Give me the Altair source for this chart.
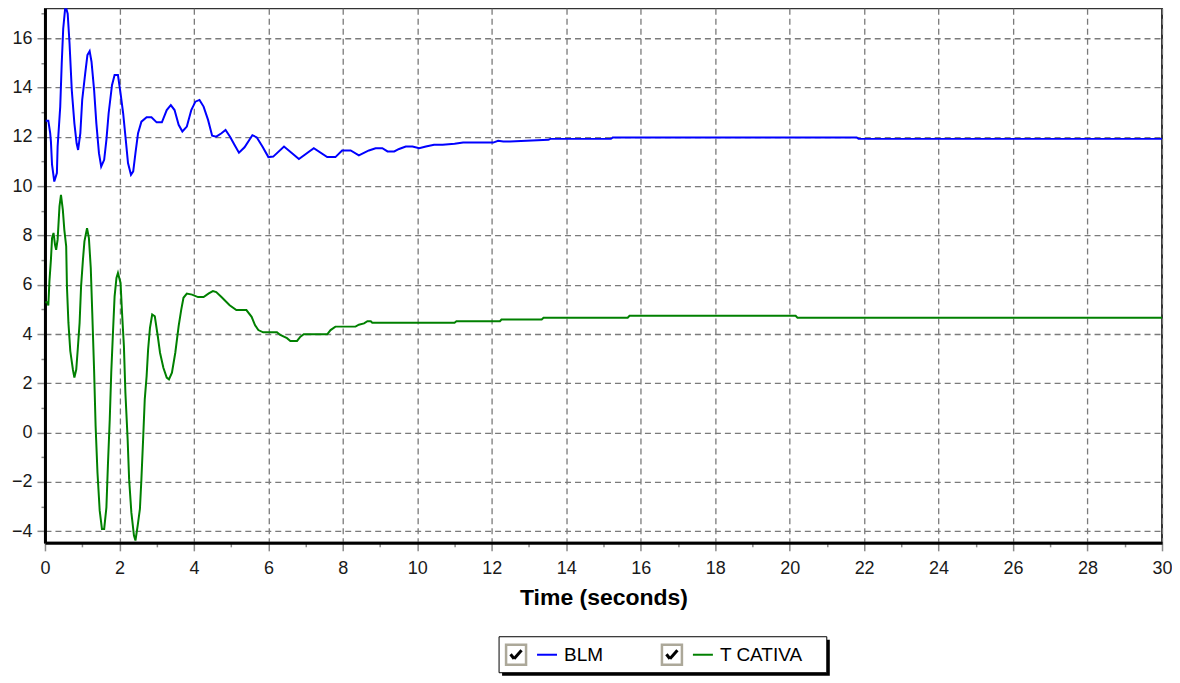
import altair as alt
import pandas as pd

series_names = ["BLM", "T CATIVA"]
series_colors = ["#0000ff", "#008000"]

blm_t = [0.02, 0.09, 0.14, 0.16, 0.19, 0.25, 0.32, 0.34, 0.41, 0.45, 0.49, 0.55, 0.61, 0.66, 0.72, 0.79,
         0.85, 0.89, 0.95, 1.0, 1.08, 1.14, 1.2, 1.25, 1.32, 1.38, 1.45, 1.51, 1.59, 1.65, 1.71, 1.8,
         1.87, 1.96, 2.03, 2.1, 2.17, 2.23, 2.31, 2.37, 2.43, 2.5, 2.59, 2.73, 2.86, 3.0, 3.14, 3.27,
         3.38, 3.48, 3.59, 3.69, 3.81, 3.93, 4.04, 4.15, 4.26, 4.38, 4.49, 4.6, 4.74, 4.85, 4.97, 5.1,
         5.21, 5.36, 5.57, 5.69, 5.84, 6.0, 6.13, 6.42, 6.82, 7.22, 7.58, 7.8, 7.98, 8.21, 8.43, 8.7,
         8.88, 9.06, 9.2, 9.38, 9.51, 9.69, 9.87, 10.05, 10.23, 10.45, 10.68, 11.0, 11.23, 12.04, 12.17,
         12.31, 12.49, 13.52, 13.57, 15.2, 15.25, 21.8, 21.85, 30.0]
blm_v = [12.66, 12.66, 12.15, 11.81, 10.87, 10.19, 10.53, 11.61, 13.23, 14.98, 16.39, 17.34, 17.0, 15.79,
         13.9, 12.55, 11.74, 11.47, 12.15, 13.5, 14.57, 15.32, 15.48, 15.05, 13.9, 12.55, 11.34, 10.8,
         11.07, 11.88, 12.96, 14.1, 14.51, 14.51, 13.77, 12.96, 11.88, 10.94, 10.46, 10.6, 11.34, 12.15,
         12.62, 12.8, 12.8, 12.59, 12.59, 13.09, 13.29, 13.09, 12.49, 12.22, 12.42, 13.09, 13.43, 13.5,
         13.23, 12.69, 12.05, 12.01, 12.15, 12.28, 12.01, 11.65, 11.36, 11.58, 12.07, 11.98, 11.61, 11.18,
         11.2, 11.61, 11.1, 11.54, 11.18, 11.18, 11.45, 11.45, 11.25, 11.45, 11.54, 11.54, 11.41, 11.41,
         11.51, 11.61, 11.61, 11.54, 11.61, 11.68, 11.68, 11.72, 11.77, 11.77, 11.84, 11.81, 11.81, 11.88,
         11.92, 11.92, 11.98, 11.98, 11.92, 11.92]

tc_t = [0.01, 0.07, 0.09, 0.12, 0.16, 0.19, 0.23, 0.27, 0.3, 0.34, 0.39, 0.43, 0.48, 0.52, 0.57, 0.59,
        0.63, 0.68, 0.75, 0.79, 0.84, 0.88, 0.93, 0.97, 1.02, 1.06, 1.13, 1.18, 1.23, 1.27, 1.32, 1.36,
        1.41, 1.47, 1.53, 1.59, 1.65, 1.69, 1.74, 1.78, 1.83, 1.87, 1.92, 1.96, 2.03, 2.07, 2.12, 2.16,
        2.22, 2.26, 2.32, 2.39, 2.43, 2.49, 2.55, 2.59, 2.64, 2.68, 2.73, 2.77, 2.82, 2.88, 2.95, 3.03,
        3.09, 3.18, 3.27, 3.33, 3.41, 3.5, 3.59, 3.66, 3.72, 3.81, 3.95, 4.11, 4.26, 4.4, 4.51, 4.6,
        4.74, 4.96, 5.14, 5.41, 5.55, 5.64, 5.73, 5.86, 6.23, 6.32, 6.5, 6.59, 6.77, 6.86, 6.95, 7.58,
        7.67, 7.8, 8.34, 8.43, 8.57, 8.66, 8.75, 8.79, 11.0, 11.05, 12.22, 12.26, 13.34, 13.39, 15.65,
        15.7, 20.16, 20.21, 30.0]
tc_v = [5.29, 5.29, 5.16, 6.14, 7.02, 7.89, 8.1, 7.62, 7.42, 7.83, 9.18, 9.65, 9.04, 8.23, 7.56, 5.94,
        4.45, 3.31, 2.56, 2.23, 2.56, 3.37, 4.45, 5.94, 7.02, 7.76, 8.3, 7.89, 6.68, 4.86, 2.5, 0.27,
        -1.62, -3.17, -3.91, -3.91, -3.04, -1.35, 0.54, 2.43, 4.18, 5.53, 6.28, 6.48, 6.07, 4.86, 3.51,
        1.62, -0.27, -1.89, -3.24, -4.18, -4.38, -3.78, -3.1, -1.89, -0.13, 1.35, 2.29, 3.37, 4.25, 4.79,
        4.72, 3.91, 3.24, 2.63, 2.23, 2.16, 2.43, 3.24, 4.32, 4.99, 5.47, 5.64, 5.6, 5.5, 5.5, 5.65, 5.74,
        5.7, 5.5, 5.17, 4.97, 4.97, 4.7, 4.36, 4.16, 4.07, 4.07, 3.96, 3.83, 3.72, 3.72, 3.89, 3.99, 3.99,
        4.16, 4.3, 4.3, 4.38, 4.43, 4.52, 4.52, 4.46, 4.46, 4.52, 4.52, 4.59, 4.59, 4.66, 4.66, 4.74, 4.74,
        4.66, 4.66]

x_ticks = [i * 0.5 for i in range(61)]        # 0 .. 30, labels every 2
y_ticks = [-4 + i * 0.5 for i in range(43)]   # -4 .. 17, labels every 2
x_domain = [0, 30]
y_domain = [-4.475, 17.22]

df = pd.concat([
    pd.DataFrame({"t": blm_t, "v": blm_v, "series": series_names[0]}),
    pd.DataFrame({"t": tc_t, "v": tc_v, "series": series_names[1]}),
], ignore_index=True)

W, H = 1118, 535
FONT = "Liberation Sans"
even = "datum.value % 2 === 0"

common_axis = dict(
    labelExpr=f"{even} ? datum.label : ''",
    format="d",
    labelFont=FONT,
    labelFontSize=18,
    labelColor="#1a1a1a",
    labelOverlap=False,
    labelFlush=False,
    domainColor="#000000",
    domainWidth=3,
    tickColor="#8a8a8a",
    tickWidth=1.5,
    tickSize={"condition": {"test": even, "value": 8}, "value": 4},
    gridColor="#7a7a7a",
    gridWidth=1.3,
    gridDash=[6, 4],
    gridOpacity={"condition": {"test": even, "value": 1}, "value": 0},
)

x_axis = alt.Axis(values=x_ticks, title="Time (seconds)", titleFont=FONT, titleFontSize=23,
                  titleFontWeight="bold", titleColor="#000000", titlePadding=9, labelPadding=9,
                  **common_axis)
y_axis = alt.Axis(values=y_ticks, title=None, labelPadding=5, **common_axis)

lines = alt.Chart(df).mark_line(strokeWidth=2, clip=True).encode(
    x=alt.X("t:Q", scale=alt.Scale(domain=x_domain, nice=False, zero=False), axis=x_axis),
    y=alt.Y("v:Q", scale=alt.Scale(domain=y_domain, nice=False, zero=False), axis=y_axis),
    color=alt.Color("series:N", scale=alt.Scale(domain=series_names, range=series_colors), legend=None),
    detail="series:N",
)

one = pd.DataFrame({"k": [0]})
base = alt.Chart(one)

# legend box (relative to plot origin)
bx0, bx1, by0, by1 = 454.5, 782.5, 629, 665
shadow = base.mark_rect(fill="#000000").encode(
    x=alt.value(bx0 + 3), x2=alt.value(bx1 + 3), y=alt.value(by0 + 3), y2=alt.value(by1 + 3))
box = base.mark_rect(fill="#ffffff", stroke="#000000", strokeWidth=1).encode(
    x=alt.value(bx0), x2=alt.value(bx1), y=alt.value(by0), y2=alt.value(by1))

legend_layers = [shadow, box]
item_x = [461.5, 617.5]
for i, name in enumerate(series_names):
    cx = item_x[i]
    cy = 637
    legend_layers.append(base.mark_rect(fill="#ffffff", stroke="#aca899", strokeWidth=2.5).encode(
        x=alt.value(cx), x2=alt.value(cx + 20), y=alt.value(cy), y2=alt.value(cy + 20)))
    legend_layers.append(base.mark_rule(stroke="#000000", strokeWidth=3).encode(
        x=alt.value(cx + 4.5), x2=alt.value(cx + 8), y=alt.value(cy + 9.5), y2=alt.value(cy + 14)))
    legend_layers.append(base.mark_rule(stroke="#000000", strokeWidth=3).encode(
        x=alt.value(cx + 8), x2=alt.value(cx + 15.5), y=alt.value(cy + 14), y2=alt.value(cy + 5.5)))
    legend_layers.append(base.mark_rule(stroke=series_colors[i], strokeWidth=2).encode(
        x=alt.value(cx + 31), x2=alt.value(cx + 51), y=alt.value(cy + 10), y2=alt.value(cy + 10)))
    legend_layers.append(base.mark_text(align="left", baseline="middle", font=FONT, fontSize=19,
                                        color="#000000").encode(
        x=alt.value(cx + 58), y=alt.value(cy + 10.5), text=alt.value(name)))

chart = alt.layer(lines, *legend_layers).properties(
    width=W, height=H,
    autosize=alt.AutoSizeParams(type="none"),
    padding={"left": 37, "top": 0, "right": 10, "bottom": 140},
    background="#ffffff",
).configure_view(stroke="#333333", strokeWidth=2)

chart.save("out.html", embed_options={"renderer": "svg", "actions": False})
